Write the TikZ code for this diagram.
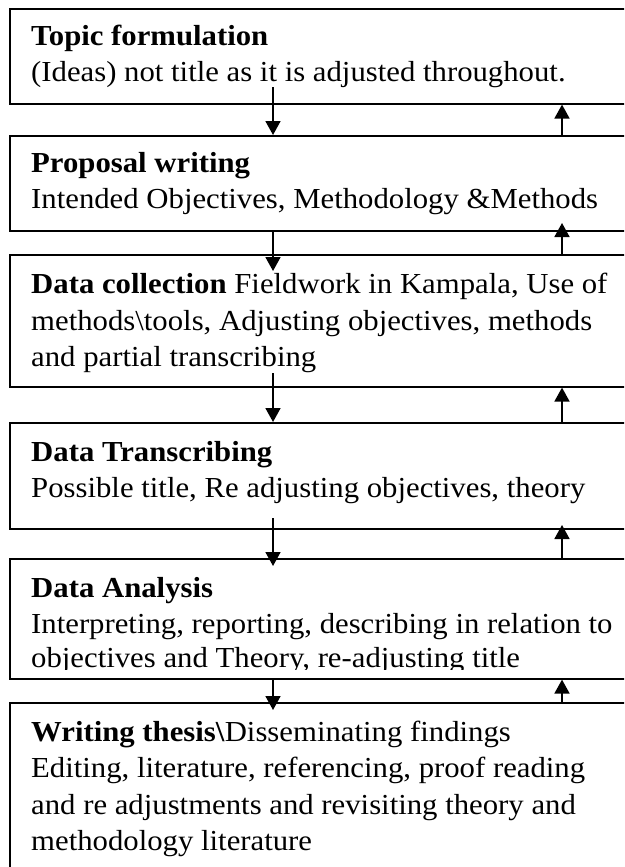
\documentclass[tikz,border=0pt]{standalone}
\usepackage{fontspec}
\setmainfont{Liberation Serif}[FakeStretch=1.06]
\usetikzlibrary{arrows.meta}
\begin{document}
\begin{tikzpicture}[x=1pt,y=-1pt,
  box/.style={draw,line width=1.6pt,anchor=north west,inner sep=0pt,minimum width=660pt},
  txt/.style={anchor=base west,inner sep=0pt,font=\fontsize{29}{36}\selectfont},
  arr/.style={line width=1.8pt,-{Triangle[width=15pt,length=14pt]}}]
\useasboundingbox (0,0) rectangle (624,867);
\clip (0,0) rectangle (624,867);
% boxes
\node[box,minimum height=95pt]  (b1) at (9,8) {};
\node[box,minimum height=95pt]  (b2) at (9,135) {};
\node[box,minimum height=132pt] (b3) at (9,254) {};
\node[box,minimum height=106pt] (b4) at (9,422) {};
\node[box,minimum height=120pt] (b5) at (9,558) {};
\node[box,minimum height=220pt] (b6) at (9,702) {};
% texts
\node[txt] (t11) at (31,46) {\textbf{Topic formulation}};
\node[txt] (t12) at (31,81.5) {(Ideas) not title as it is adjusted throughout.};
\node[txt] (t21) at (31,172.5) {\textbf{Proposal writing}};
\node[txt] (t22) at (31,208) {Intended Objectives, Methodology \&Methods};
\node[txt] (t31) at (31,293) {\textbf{Data collection} Fieldwork in Kampala, Use of};
\node[txt] (t32) at (31,330) {methods\textbackslash tools, Adjusting objectives, methods};
\node[txt] (t33) at (31,366) {and partial transcribing};
\node[txt] (t41) at (31,461) {\textbf{Data Transcribing}};
\node[txt] (t42) at (31,497) {Possible title, Re adjusting objectives, theory};
\begin{scope}
\clip (9,558) rectangle (624,669);
\node[txt] (t51) at (31,597) {\textbf{Data Analysis}};
\node[txt] (t52) at (31,633) {Interpreting, reporting, describing in relation to};
\node[txt] (t53) at (31,667.5) {objectives and Theory, re-adjusting title};
\end{scope}
\node[txt] (t61) at (31,741) {\textbf{Writing thesis\textbackslash}Disseminating findings};
\node[txt] (t62) at (31,777.5) {Editing, literature, referencing, proof reading};
\node[txt] (t63) at (31,814) {and re adjustments and revisiting theory and};
\node[txt] (t64) at (31,850.5) {methodology literature};
% arrow coordinates
\coordinate (dx) at (273,0);
\coordinate (ux) at (562,0);
\coordinate (d1s) at (273,87);
\coordinate (d2e) at (273,271);
\coordinate (u2e) at (562,223);
\coordinate (d3s) at (273,373);
\coordinate (d4s) at (273,518);
\coordinate (d4e) at (273,566);
\coordinate (u4e) at (562,525);
\coordinate (d5e) at (273,710);
% arrows
\draw[arr] (d1s) -- (dx |- b2.north);
\draw[arr] (ux |- b2.north) -- (ux |- b1.south);
\draw[arr] (dx |- b2.south) -- (d2e);
\draw[arr] (ux |- b3.north) -- (u2e);
\draw[arr] (d3s) -- (dx |- b4.north);
\draw[arr] (ux |- b4.north) -- (ux |- b3.south);
\draw[arr] (d4s) -- (d4e);
\draw[arr] (ux |- b5.north) -- (u4e);
\draw[arr] (dx |- b5.south) -- (d5e);
\draw[arr] (ux |- b6.north) -- (ux |- b5.south);
\end{tikzpicture}
\end{document}
